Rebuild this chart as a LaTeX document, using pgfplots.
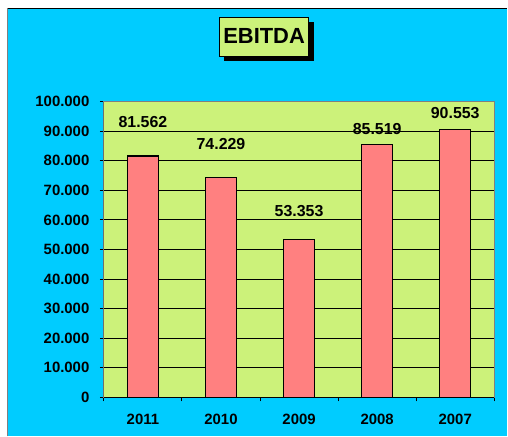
\documentclass[border=0pt]{standalone}
\usepackage{pgfplots}
\pgfplotsset{compat=1.18}
\usepackage{fontspec}
\setmainfont{Liberation Sans}
\definecolor{bgcyan}{RGB}{0,204,255}
\definecolor{plotgreen}{RGB}{204,242,122}
\definecolor{barred}{RGB}{255,128,128}
\definecolor{frame}{RGB}{128,128,128}
\begin{document}
\begin{tikzpicture}
\begin{scope}[x=1bp,y=1bp]
\path[fill=white] (0,0) rectangle (508,437);
\fill[bgcyan] (8,0) rectangle (508,428);
\draw[black, line width=1.5bp] (7,428.5) -- (508,428.5);
\draw[frame, line width=1bp] (7.5,0) -- (7.5,429);
\end{scope}
\begin{axis}[
  at={(143.1bp,39bp)}, anchor=origin, scale only axis,
  width=391bp, height=296.3bp,
  xmin=-0.5, xmax=4.5, ymin=0, ymax=100000,
  axis background/.style={fill=plotgreen},
  axis line style={draw=frame, line width=1bp},
  xtick={0,1,2,3,4},
  xticklabels={2011,2010,2009,2008,2007},
  minor xtick={-0.5,0.5,1.5,2.5,3.5,4.5},
  ytick={0,10000,...,100000},
  scaled y ticks=false,
  yticklabel={\pgfmathprintnumber[fixed,1000 sep={.}]{\tick}},
  /pgf/number format/assume math mode=true,
  tick label style={font=\bfseries\fontsize{15}{17}\selectfont},
  every major x tick/.append style={draw=none},
  tick style={black, line width=1bp},
  tick align=outside,
  major tick length=4bp, minor tick length=4bp,
  xtick pos=bottom, ytick pos=left,
  ymajorgrids, grid style={black, line width=0.9bp},
  xticklabel style={yshift=-9bp},
  yticklabel style={xshift=-7bp},
]
\addplot[ybar, bar width=31bp, fill=barred, draw=black, line width=1.3bp]
  coordinates {(0,81562) (1,74229) (2,53353) (3,85519) (4,90553)};
\draw[black, line width=1bp] (rel axis cs:0,0) -- (rel axis cs:0,1);
\draw[black, line width=1bp] (rel axis cs:0,0) -- (rel axis cs:1,0);
\begin{scope}[every node/.style={font=\bfseries\fontsize{16}{18}\selectfont}]
\node at (axis cs:0,93150) {81.562};
\node at (axis cs:1,85720) {74.229};
\node at (axis cs:2,63110) {53.353};
\node at (axis cs:3,90790) {85.519};
\node at (axis cs:4,96190) {90.553};
\end{scope}
\end{axis}
\begin{scope}[x=1bp,y=1bp]
\fill[black] (224,376) rectangle (314,415);
\draw[fill=plotgreen, line width=0.8bp] (220,381) rectangle (309,420);
\node[font=\bfseries\fontsize{22}{24}\selectfont] at (264.5,400.5) {EBITDA};
\end{scope}
\end{tikzpicture}
\end{document}
